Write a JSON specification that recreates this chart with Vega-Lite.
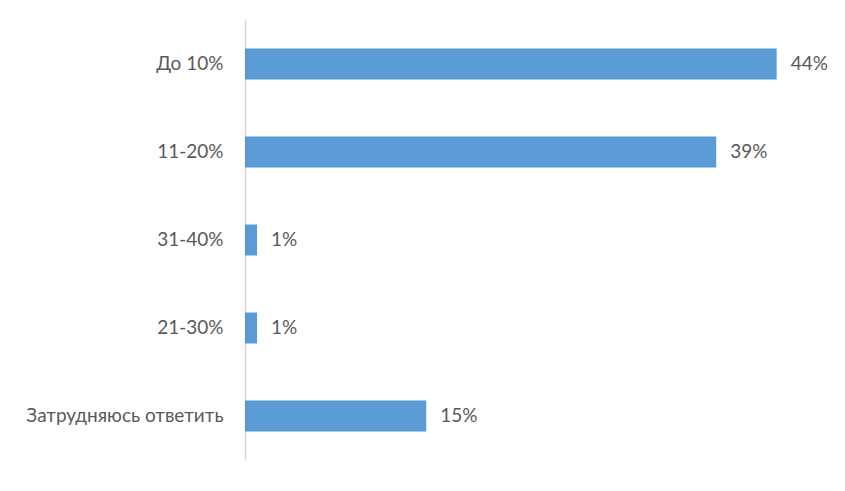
{
  "$schema": "https://vega.github.io/schema/vega-lite/v6.json",
  "autosize": {"type": "none"},
  "padding": {"left": 245, "top": 20, "right": 20, "bottom": 31},
  "width": 580,
  "height": 440,
  "data": {
    "values": [
      {"category": "До 10%", "share": 0.44},
      {"category": "11-20%", "share": 0.39},
      {"category": "31-40%", "share": 0.01},
      {"category": "21-30%", "share": 0.01},
      {"category": "Затрудняюсь ответить", "share": 0.15}
    ]
  },
  "encoding": {
    "y": {
      "field": "category",
      "type": "nominal",
      "sort": null,
      "title": null,
      "scale": {"paddingInner": 0.648, "paddingOuter": 0.324},
      "axis": {
        "ticks": false,
        "labelPadding": 22,
        "labelLimit": 300,
        "labelFont": "Lato",
        "labelFontSize": 19,
        "labelColor": "#595959",
        "domainColor": "#d9d9d9",
        "domainWidth": 1.5
      }
    },
    "x": {
      "field": "share",
      "type": "quantitative",
      "scale": {"domain": [0, 0.48]},
      "axis": null
    }
  },
  "layer": [
    {"mark": {"type": "bar", "color": "#5b9bd5"}},
    {
      "mark": {
        "type": "text",
        "align": "left",
        "dx": 14,
        "font": "Lato",
        "fontSize": 19,
        "color": "#595959"
      },
      "encoding": {"text": {"field": "share", "type": "quantitative", "format": ".0%"}}
    }
  ],
  "config": {"view": {"stroke": null}}
}
